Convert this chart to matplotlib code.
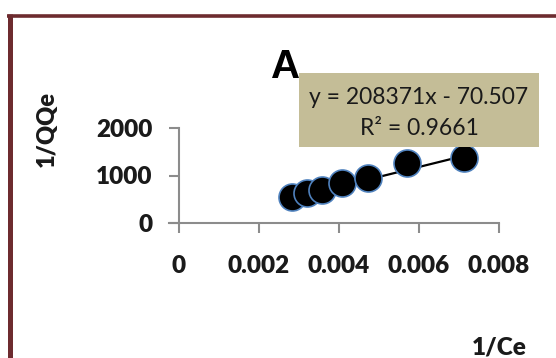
import matplotlib
matplotlib.use("Agg")
from matplotlib import pyplot as plt
from matplotlib.lines import Line2D
import numpy as np

# data
inv_ce = [0.00283, 0.00320, 0.00358, 0.00408, 0.00473, 0.00570, 0.00713]
inv_qqe = [547, 632, 695, 842, 947, 1263, 1368]
slope, intercept = 208371, -70.507
xticks = [0, 0.002, 0.004, 0.006, 0.008]
xtick_labels = ["0", "0.002", "0.004", "0.006", "0.008"]
yticks = [0, 1000, 2000]

W, H = 556, 358
fig = plt.figure(figsize=(W / 100, H / 100), dpi=100)
ax = fig.add_axes([179 / W, 1 - 223 / H, 320 / W, 95 / H])

ax.scatter(inv_ce, inv_qqe, s=27 ** 2 * 0.72 ** 2, c="black",
           edgecolors="#4F81BD", linewidths=1.2, zorder=3)
xl = np.array([min(inv_ce), max(inv_ce)])
ax.plot(xl, slope * xl + intercept, color="black", lw=1.6, zorder=2)

ax.set_xlim(0, 0.008)
ax.set_ylim(0, 2000)
ax.set_xticks(xticks)
ax.set_xticklabels(xtick_labels)
ax.set_yticks(yticks)
for s in ["top", "right"]:
    ax.spines[s].set_visible(False)
for s in ["left", "bottom"]:
    ax.spines[s].set_color("#8C8C8C")
    ax.spines[s].set_linewidth(1.5)
ax.spines["bottom"].set_bounds(-0.00025, 0.008)
ax.spines["bottom"].set_position(("data", 0))
ax.tick_params(axis="both", color="#8C8C8C", width=1.5, length=7,
               labelsize=17.5, labelcolor="#1a1a1a")
ax.tick_params(axis="x", pad=16)
ax.tick_params(axis="y", pad=12)
for t in ax.get_xticklabels() + ax.get_yticklabels():
    t.set_fontfamily("Lato")
    t.set_fontweight("heavy")

fig.text(47 / W, 1 - 129 / H, "1/QQe", rotation=90, ha="center", va="center",
         fontsize=17, fontweight="heavy", family="Lato", color="#1a1a1a")
fig.text(499 / W, 1 - 347 / H, "1/Ce", ha="center", va="center",
         fontsize=17.5, fontweight="heavy", family="Lato", color="#1a1a1a")
fig.text(286 / W, 1 - 67 / H, "A", ha="center", va="center",
         fontsize=29, fontweight="bold", family="Liberation Sans", color="black")

# equation box
fig.patches.append(plt.Rectangle((299 / W, 1 - 147 / H), 240 / W, 74 / H,
                                 transform=fig.transFigure, facecolor="#C4BD97",
                                 edgecolor="none", zorder=4))
fig.text(419 / W, 1 - 97 / H, "y = 208371x - 70.507", ha="center", va="center",
         fontsize=16.5, family="Lato", color="#1a1a1a", zorder=5)
fig.text(419 / W, 1 - 128 / H, "R² = 0.9661", ha="center", va="center",
         fontsize=16.5, family="Lato", color="#1a1a1a", zorder=5)

# chart border (only top and left visible)
fig.add_artist(Line2D([7 / W, 1], [1 - 15.5 / H, 1 - 15.5 / H], transform=fig.transFigure,
                      color="#6D2B2F", lw=2.6, solid_capstyle="butt"))
fig.add_artist(Line2D([9.5 / W, 9.5 / W], [0, 1 - 14 / H], transform=fig.transFigure,
                      color="#6D2B2F", lw=3.6, solid_capstyle="butt"))

fig.savefig("out.png", dpi=100)
